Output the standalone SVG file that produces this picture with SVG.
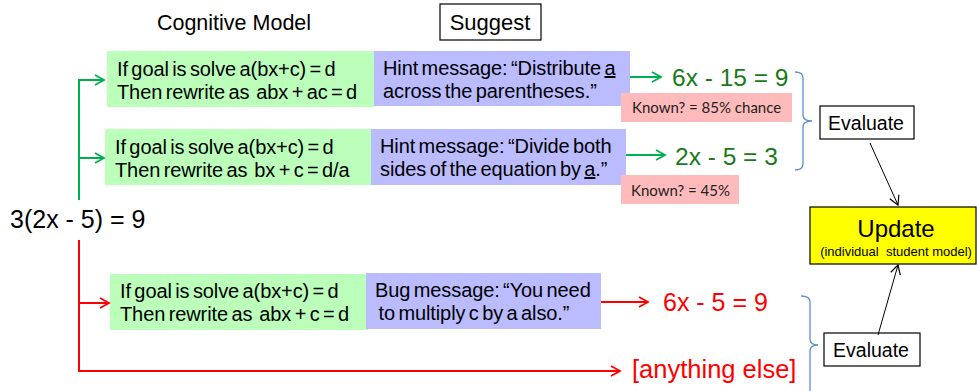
<svg xmlns="http://www.w3.org/2000/svg" width="977" height="391" viewBox="0 0 977 391" xml:space="preserve">
<defs>
<style>
.t{font-family:"Liberation Sans",Arial,sans-serif;fill:#000;white-space:pre}
.b{font-size:20px;word-spacing:-2px;letter-spacing:-0.1px}
.k{font-family:Lato,"Liberation Sans",sans-serif;font-size:15px;fill:#222;white-space:pre}
.g{fill:#bbffbb}
.h{fill:#bbbbff}
.p{fill:#ffbbbb}
.box{fill:#fff;stroke:#000;stroke-width:1.2}
.gl{stroke:#00b050;stroke-width:2;fill:none}
.rl{stroke:#ff0000;stroke-width:2;fill:none}
.bl{stroke:#5b8fd0;stroke-width:1.3;fill:none}
.kl{stroke:#000;stroke-width:1;fill:none}
</style>
<marker id="ga" markerWidth="12" markerHeight="12" refX="10" refY="6" orient="auto" markerUnits="userSpaceOnUse"><path d="M1,1 L10,6 L1,11" fill="none" stroke="#00b050" stroke-width="1.8"/></marker>
<marker id="ra" markerWidth="12" markerHeight="12" refX="10" refY="6" orient="auto" markerUnits="userSpaceOnUse"><path d="M1,1 L10,6 L1,11" fill="none" stroke="#ff0000" stroke-width="1.8"/></marker>
<marker id="ka" markerWidth="12" markerHeight="12" refX="10" refY="6" orient="auto" markerUnits="userSpaceOnUse"><path d="M1,1 L10,6 L1,11" fill="none" stroke="#000" stroke-width="1.2"/></marker>
</defs>

<text class="t" x="234" y="30" font-size="21.5" text-anchor="middle">Cognitive Model</text>
<g id="suggest"><rect class="box" x="440" y="4" width="101" height="36"/><text class="t" x="490" y="30" font-size="22" text-anchor="middle">Suggest</text></g>

<g id="start"><text class="t" x="10" y="228" font-size="25">3(2x - 5) = 9</text></g>

<g id="rule1">
<rect class="g" x="107" y="51" width="268" height="56"/>
<text class="t b" x="117" y="76">If goal is solve a(bx+c) = d</text>
<text class="t b" x="117" y="99">Then rewrite as  abx + ac = d</text>
</g>
<g id="hint1">
<rect class="h" x="374" y="51" width="256" height="55"/>
<text class="t b" x="383" y="75">Hint message: “Distribute <tspan text-decoration="underline">a</tspan></text>
<text class="t b" x="383" y="98">across the parentheses.”</text>
</g>
<g id="rule2">
<rect class="g" x="105" y="129" width="267" height="56"/>
<text class="t b" x="115" y="154">If goal is solve a(bx+c) = d</text>
<text class="t b" x="115" y="177">Then rewrite as  bx + c = d/a</text>
</g>
<g id="hint2">
<rect class="h" x="371" y="129" width="255" height="56"/>
<text class="t b" x="380" y="153">Hint message: “Divide both</text>
<text class="t b" x="380" y="176">sides of the equation by <tspan text-decoration="underline">a</tspan>.”</text>
</g>
<g id="rule3">
<rect class="g" x="110" y="274" width="258" height="56"/>
<text class="t b" x="120" y="298">If goal is solve a(bx+c) = d</text>
<text class="t b" x="120" y="321">Then rewrite as  abx + c = d</text>
</g>
<g id="bug3">
<rect class="h" x="366" y="273" width="235" height="56"/>
<text class="t b" x="375" y="297">Bug message: “You need</text>
<text class="t b" x="375" y="320"> to multiply c by a also.”</text>
</g>

<g id="res1"><text class="t" x="672" y="86" font-size="24.5" style="fill:#1a7a1a">6x - 15 = 9</text></g>
<g id="known1"><rect class="p" x="621" y="93" width="171" height="29"/><text class="k" x="632" y="113">Known? = 85% chance</text></g>
<g id="res2"><text class="t" x="675" y="165" font-size="24.5" style="fill:#1a7a1a">2x - 5 = 3</text></g>
<g id="known2"><rect class="p" x="621" y="175" width="118" height="29"/><text class="k" x="631" y="196">Known? = 45%</text></g>
<g id="res3"><text class="t" x="663" y="311" font-size="25" style="fill:#ff0000">6x - 5 = 9</text></g>
<g id="res4"><text class="t" x="632" y="378" font-size="25.5" style="fill:#ff0000">[anything else]</text></g>

<g id="eval1"><rect class="box" x="820" y="106" width="94" height="33"/><text class="t" x="866" y="130" font-size="19.5" text-anchor="middle">Evaluate</text></g>
<g id="update"><rect x="810" y="207" width="166" height="57" fill="#ffff00" stroke="#000" stroke-width="1.2"/><text class="t" x="896" y="237" font-size="24" text-anchor="middle">Update</text><text class="t" x="896" y="256" font-size="13" text-anchor="middle">(individual  student model)</text></g>
<g id="eval2"><rect class="box" x="824" y="333" width="96" height="33"/><text class="t" x="871" y="357" font-size="19.5" text-anchor="middle">Evaluate</text></g>

<g id="connectors">
<path class="gl" d="M79,200 V80 H104" marker-end="url(#ga)"/>
<path class="gl" d="M79,158 H104" marker-end="url(#ga)"/>
<path class="rl" d="M79,240 V371 H620" marker-end="url(#ra)"/>
<path class="rl" d="M79,303 H109" marker-end="url(#ra)"/>
<path class="gl" d="M630,77 H661" marker-end="url(#ga)"/>
<path class="gl" d="M626,155 H665" marker-end="url(#ga)"/>
<path class="rl" d="M601,302 H648" marker-end="url(#ra)"/>
<path class="bl" d="M795,72 Q803,72 803,78 V115 Q803,121 812,121 Q803,121 803,127 V164 Q803,170 795,170"/>
<path class="bl" d="M801,296 Q810,296 810,302 V339 Q810,345 818,345 Q810,345 810,351 V391"/>
<path class="kl" d="M870,143 L898,205" marker-end="url(#ka)"/>
<path class="kl" d="M878,335 L898,265" marker-end="url(#ka)"/>
</g>
</svg>
